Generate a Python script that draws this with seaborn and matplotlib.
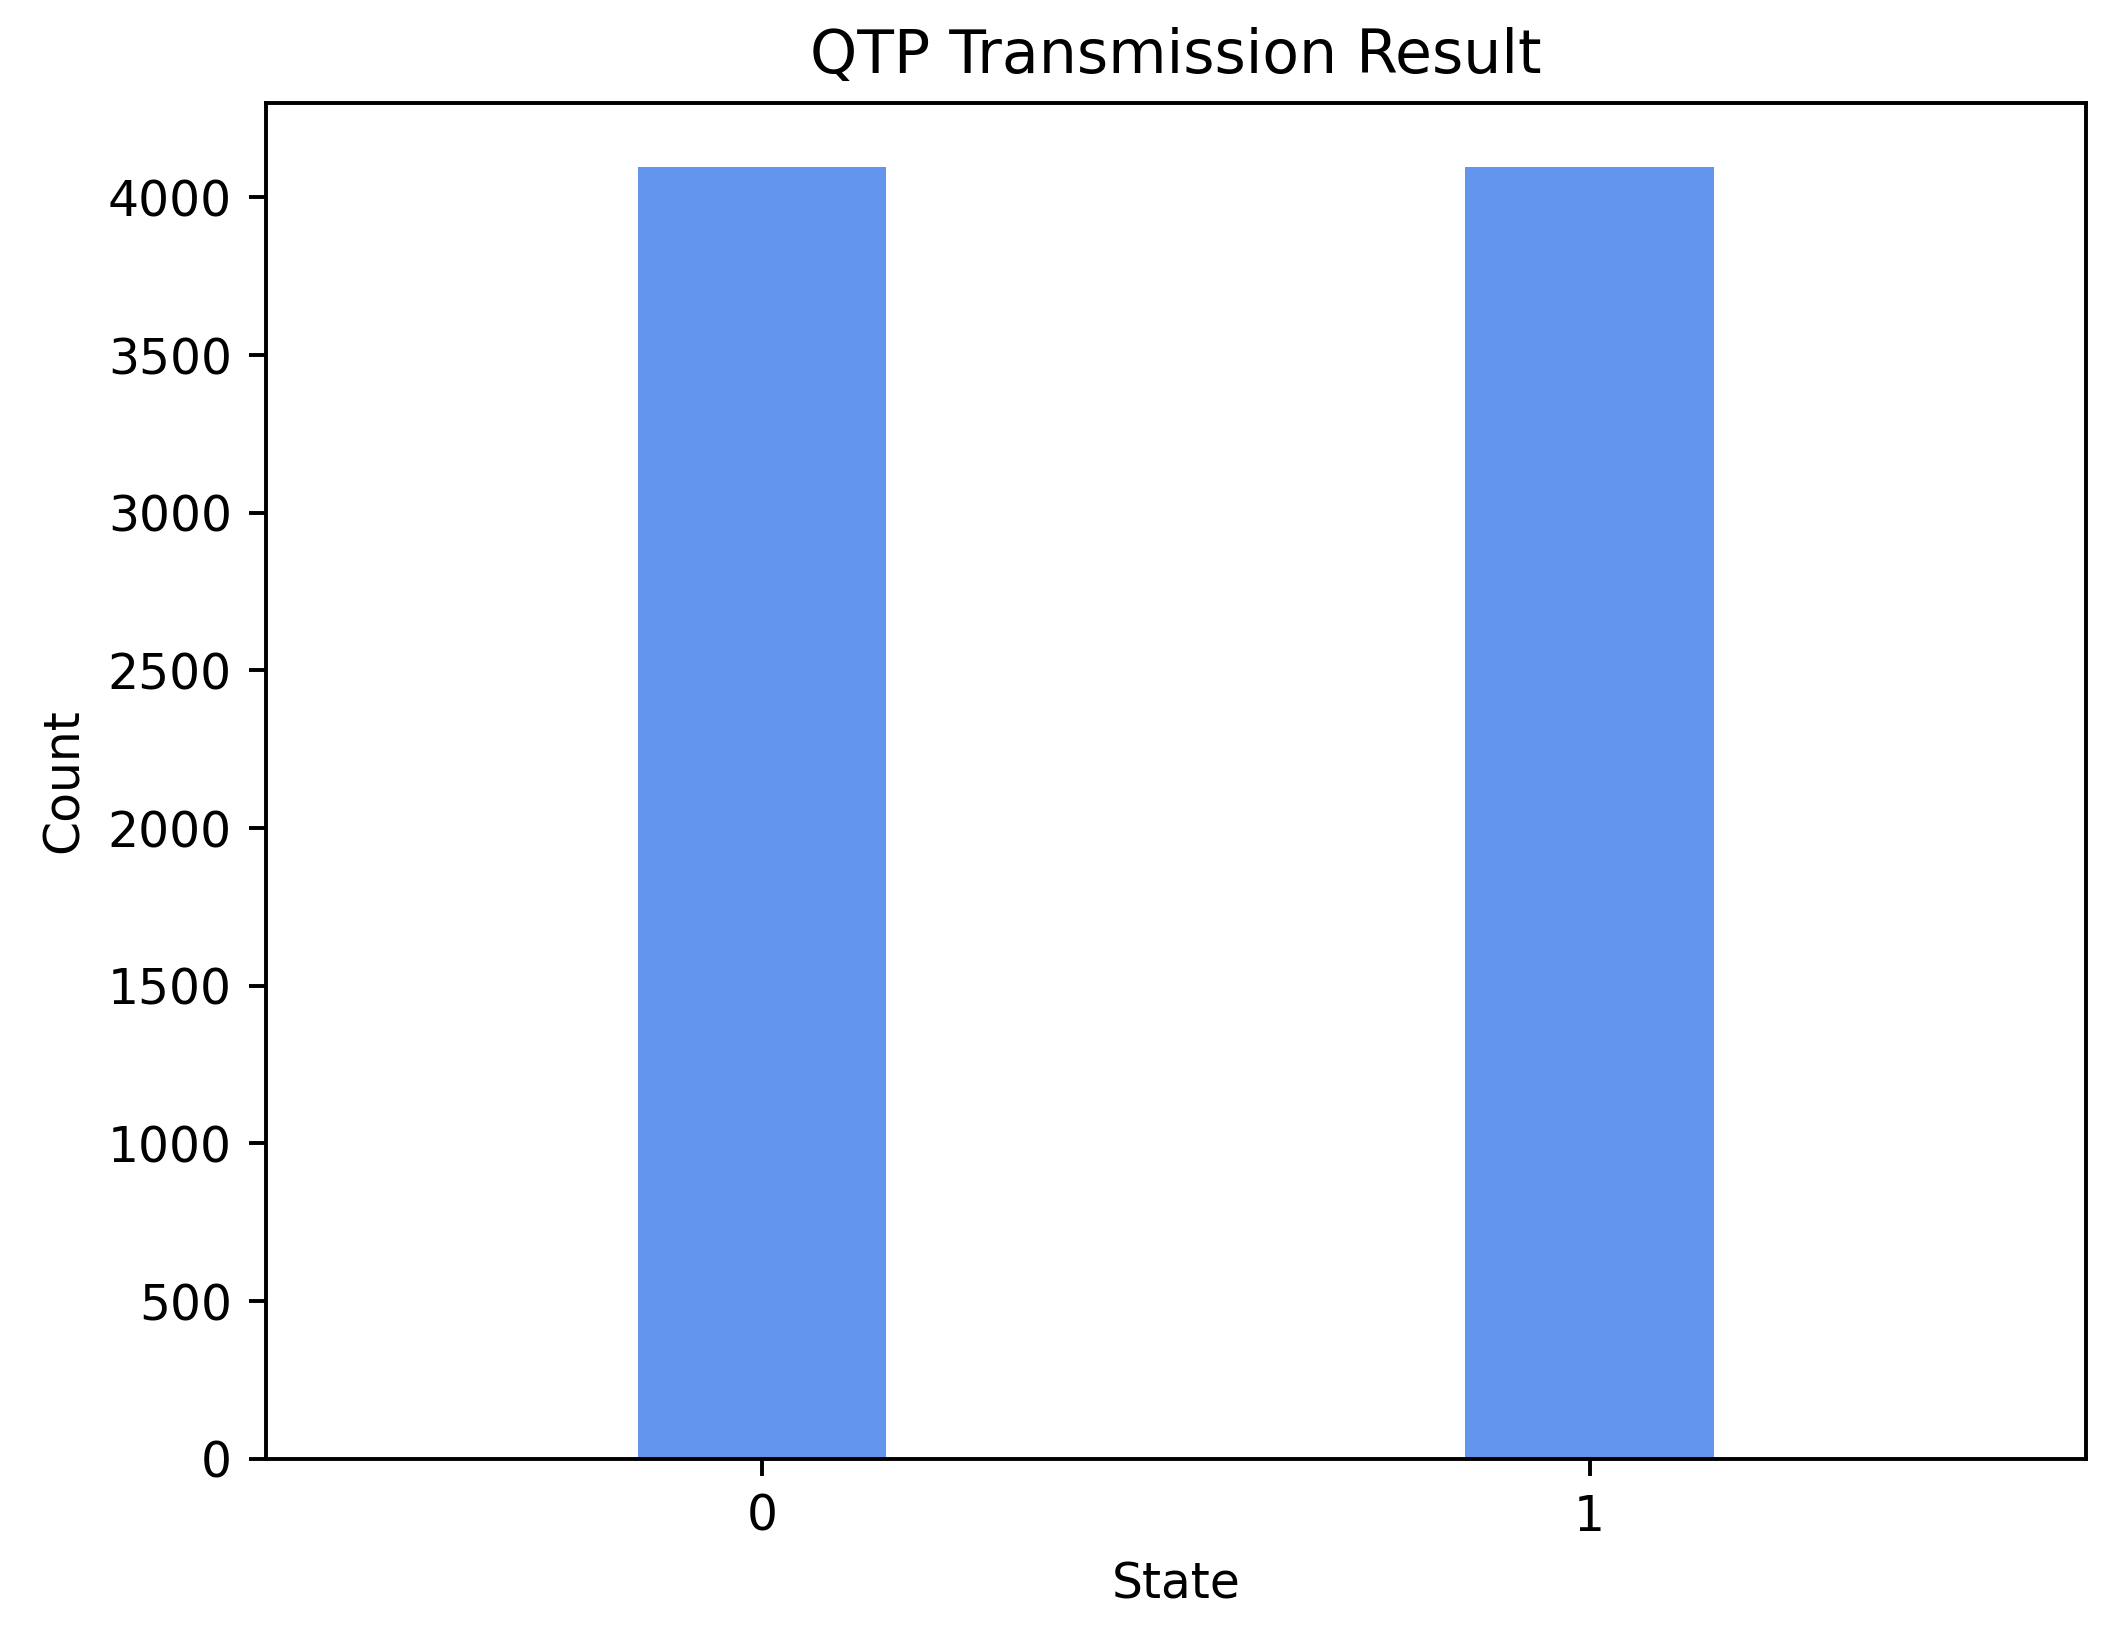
import matplotlib
matplotlib.use("Agg")
import matplotlib.pyplot as plt
import seaborn as sns
import pandas as pd

# measurement outcome counts
states = ["0", "1"]
counts = [4096, 4096]

df = pd.DataFrame({"State": states, "Count": counts})

s = 1.17  # the reference was rendered a bit larger than 300 dpi defaults
plt.rcParams["axes.linewidth"] = 0.8 * s
plt.rcParams["xtick.major.size"] = 3.5 * s
plt.rcParams["ytick.major.size"] = 3.5 * s
plt.rcParams["xtick.major.width"] = 0.8 * s
plt.rcParams["ytick.major.width"] = 0.8 * s
plt.rcParams["xtick.major.pad"] = 3.5 * s
plt.rcParams["ytick.major.pad"] = 3.5 * s

fig = plt.figure(figsize=(2117 / 300, 1637 / 300), dpi=300)
ax = fig.add_axes([0.1256, 0.1089, 0.8597, 0.8284])

sns.barplot(data=df, x="State", y="Count", color="cornflowerblue",
            saturation=1, width=0.3, ax=ax)

ax.set_xlim(-0.6, 1.6)
ax.set_title("QTP Transmission Result", fontsize=14.4, pad=6 * s)
ax.set_xlabel("State", fontsize=11.7, labelpad=4 * s)
ax.set_ylabel("Count", fontsize=11.7, labelpad=4 * s)
ax.tick_params(labelsize=11.7)

fig.savefig("out.png", dpi=300)
